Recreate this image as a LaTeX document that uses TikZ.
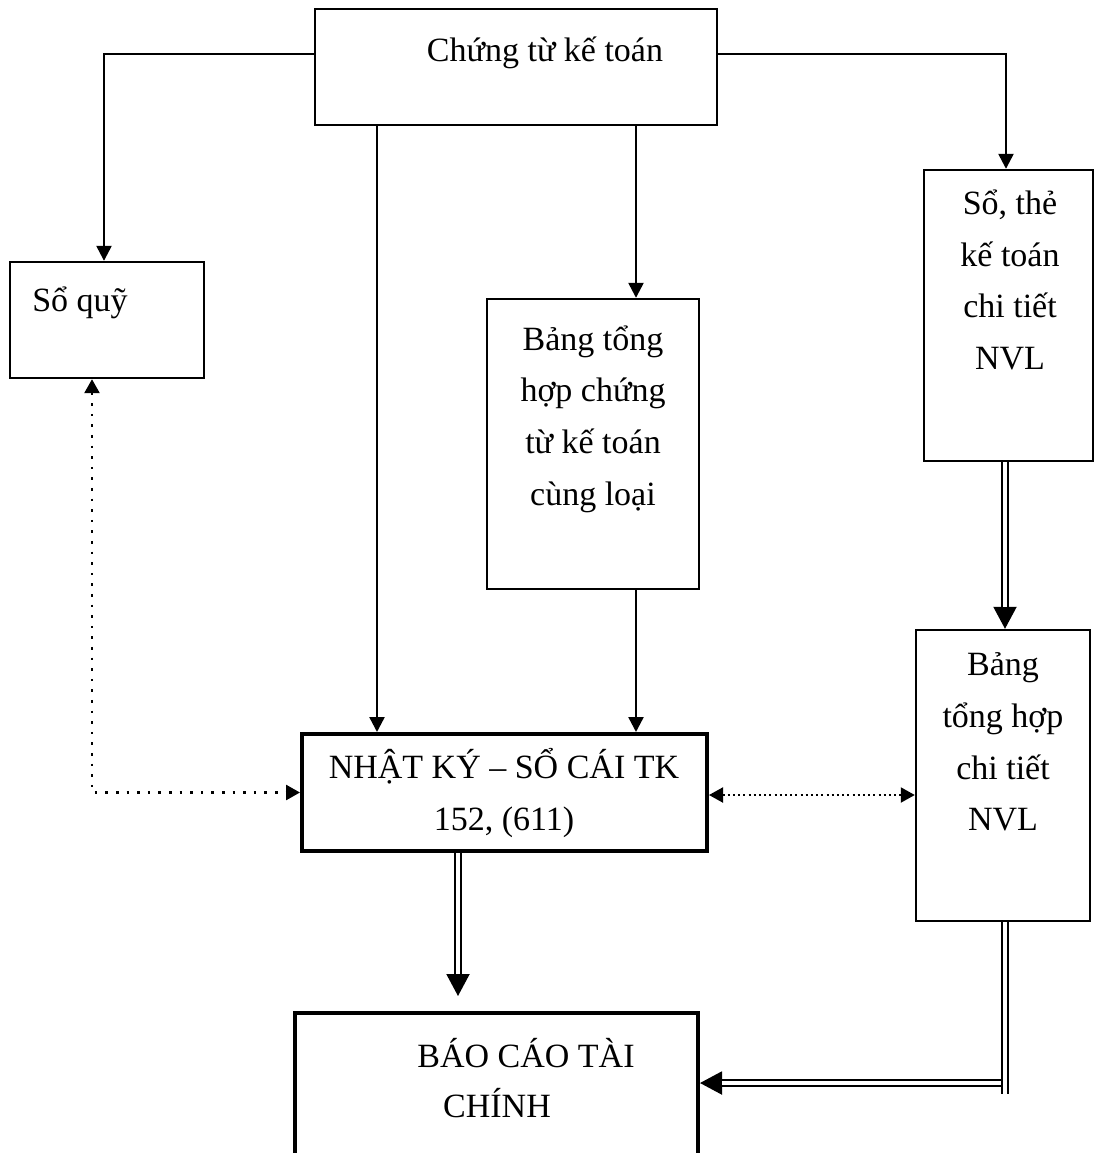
\documentclass[tikz,border=0pt]{standalone}
\usepackage{fontspec}
\setmainfont{Liberation Serif}
\usetikzlibrary{arrows.meta,fit,calc}

\tikzset{
  box/.style={draw, line width=1.2pt, inner sep=0pt},
  thickbox/.style={draw, line width=2pt, inner sep=0pt},
  lbl/.style={font=\fontsize{17pt}{25.8pt}\selectfont, align=center, inner sep=0pt},
  conn/.style={line width=1.2pt, -{Triangle[length=7.5pt,width=7.5pt]}},
  dotconn/.style={line width=1.3pt, dash pattern=on 1.3pt off 4pt,
    {Triangle[length=7pt,width=7.5pt]}-{Triangle[length=7pt,width=7.5pt]}},
  finedotconn/.style={line width=1pt, dash pattern=on 1pt off 1.6pt,
    {Triangle[length=7pt,width=7.5pt]}-{Triangle[length=7pt,width=7.5pt]}},
  dblline/.style={double, double distance=1.8pt, line width=1pt},
  bigtip/.style={line width=1pt, -{Triangle[length=11pt,width=11.5pt]}},
}

\begin{document}
\begin{tikzpicture}[x=0.5pt, y=-0.5pt]
  \useasboundingbox (0,0) rectangle (1095,1153);
  \clip (0,0) rectangle (1095,1153);

  % boxes
  \node[box, fit={(315,9) (717,125)}] (ct) {};
  \node[box, fit={(10,262) (204,378)}] (sq) {};
  \node[box, fit={(487,299) (699,589)}] (bthct) {};
  \node[box, fit={(924,170) (1093,461)}] (st) {};
  \node[box, fit={(916,630) (1090,921)}] (btct) {};
  \node[thickbox, fit={(302,734) (707,851)}] (nk) {};
  \node[thickbox, fit={(295,1013) (698,1200)}] (bc) {};

  % texts
  \node[lbl] (tct) at (545,53) {Chứng từ kế toán};
  \node[lbl] (tsq) at (80,303) {Sổ quỹ};
  \node[lbl] (tbthct) at (593,419) {Bảng tổng\\hợp chứng\\từ kế toán\\cùng loại};
  \node[lbl] (tst) at (1010,280) {Sổ, thẻ\\kế toán\\chi tiết\\NVL};
  \node[lbl] (tbtct) at (1003,742) {Bảng\\tổng hợp\\chi tiết\\NVL};
  \node[lbl] (tnk) at (504,793) {NHẬT KÝ – SỔ CÁI TK\\152, (611)};
  \node[lbl] (tbc1) at (526,1053) {BÁO CÁO TÀI};
  \node[lbl] (tbc2) at (497,1103) {CHÍNH};

  % single connectors
  \coordinate (L) at (104,54);
  \coordinate (R) at (1006,54);
  \coordinate (A) at (377,0);
  \coordinate (B) at (636,0);
  \draw[conn] (ct.west |- L) -| (L |- sq.north);
  \draw[conn] (ct.east |- R) -| (R |- st.north);
  \draw[conn] (A |- ct.south) -- (A |- nk.north);
  \draw[conn] (B |- ct.south) -- (B |- bthct.north);
  \draw[conn] (B |- bthct.south) -- (B |- nk.north);

  % dotted links
  \coordinate (D) at (92,793);
  \draw[dotconn] (D |- sq.south) |- (nk.west);
  \coordinate (E) at (0,795);
  \draw[finedotconn] (nk.east |- E) -- (btct.west |- E);

  % double connectors
  \coordinate (F) at (1005,0);
  \draw[bigtip] (F |- st.south) -- (F |- btct.north);
  \draw[dblline, shorten >=11pt] (F |- st.south) -- (F |- btct.north);

  \coordinate (G) at (458,996);
  \draw[bigtip] (G |- nk.south) -- (G);
  \draw[dblline, shorten >=11pt] (G |- nk.south) -- (G);

  \coordinate (K) at (1003,1083);
  \draw[bigtip] (K) -- (bc.east |- K);
  \draw[dblline, shorten >=11pt] (K) -- (bc.east |- K);
  \coordinate (H) at (1005,1094);
  \draw[dblline] (H |- btct.south) -- (H);
\end{tikzpicture}
\end{document}
